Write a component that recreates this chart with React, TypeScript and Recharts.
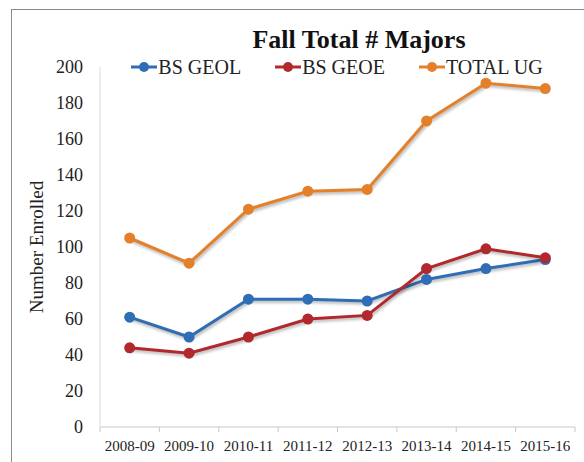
import { LineChart, Line, XAxis, YAxis, Legend } from "recharts";

const categories = [
  "2008-09",
  "2009-10",
  "2010-11",
  "2011-12",
  "2012-13",
  "2013-14",
  "2014-15",
  "2015-16",
];
const bsGeol = [61, 50, 71, 71, 70, 82, 88, 93];
const bsGeoe = [44, 41, 50, 60, 62, 88, 99, 94];
const totalUg = [105, 91, 121, 131, 132, 170, 191, 188];
const yTicks = [0, 20, 40, 60, 80, 100, 120, 140, 160, 180, 200];
const seriesNames = ["BS GEOL", "BS GEOE", "TOTAL UG"];

const data = categories.map((year, i) => ({
  year,
  geol: bsGeol[i],
  geoe: bsGeoe[i],
  total: totalUg[i],
}));

const W = 584;
const H = 462;
const margin = { top: 67, right: 9, bottom: 4, left: 0 };
const yAxisWidth = 100;
const step = (W - margin.left - margin.right - yAxisWidth) / categories.length;
const font = "Liberation Serif, serif";

function XTick(props: any) {
  const { x, y, payload, index } = props;
  const last = index === categories.length - 1;
  return (
    <g>
      <line x1={x - step / 2} y1={y} x2={x - step / 2} y2={y + 5} stroke="#c8c8c8" />
      {last && <line x1={x + step / 2} y1={y} x2={x + step / 2} y2={y + 5} stroke="#c8c8c8" />}
      <text
        x={x}
        y={y + 19}
        dy="0.355em"
        textAnchor="middle"
        fontFamily={font}
        fontSize={15}
        fill="#222"
      >
        {payload.value}
      </text>
    </g>
  );
}

// legend keeps the series order instead of recharts' alphabetical sort
function LegendRow(props: any) {
  const items = [...(props.payload || [])].sort(
    (a: any, b: any) => seriesNames.indexOf(a.value) - seriesNames.indexOf(b.value)
  );
  return (
    <div style={{ display: "flex", justifyContent: "center", gap: 34, fontFamily: font }}>
      {items.map((it: any) => (
        <div key={it.value} style={{ display: "flex", alignItems: "center" }}>
          <svg width={26} height={12}>
            <line x1={0} y1={6} x2={26} y2={6} stroke={it.color} strokeWidth={3} />
            <circle cx={13} cy={6} r={5} fill={it.color} />
          </svg>
          <span
            style={{
              fontFamily: font,
              fontSize: 20,
              lineHeight: "22px",
              color: "#222",
              marginLeft: 1,
            }}
          >
            {it.value}
          </span>
        </div>
      ))}
    </div>
  );
}

export default function App() {
  return (
    <div
      style={{
        position: "fixed",
        left: 0,
        top: 0,
        width: W,
        height: H,
        overflow: "hidden",
        background: "#fff",
        fontFamily: font,
      }}
    >
      <style>{`.recharts-line { filter: drop-shadow(1px 2px 1.5px rgba(0,0,0,0.3)); }`}</style>
      <div
        style={{
          position: "absolute",
          left: 11,
          top: 9,
          width: 700,
          height: 600,
          border: "1.5px solid #8a8a8a",
        }}
      />
      <div
        style={{
          position: "absolute",
          left: 200,
          width: 318,
          top: 25,
          textAlign: "center",
          fontWeight: "bold",
          fontSize: 26,
          lineHeight: "30px",
          color: "#111",
        }}
      >
        Fall Total # Majors
      </div>
      <div
        style={{
          position: "absolute",
          left: 37 - 100,
          top: 247 - 11,
          width: 200,
          height: 22,
          textAlign: "center",
          fontSize: 19,
          lineHeight: "22px",
          color: "#222",
          transform: "rotate(-90deg)",
        }}
      >
        Number Enrolled
      </div>
      <div style={{ position: "absolute", left: 0, top: 0 }}>
        <LineChart width={W} height={H} data={data} margin={margin}>
          <XAxis
            dataKey="year"
            scale="band"
            height={31}
            stroke="#c8c8c8"
            tickSize={0}
            tickMargin={0}
            tick={<XTick />}
            interval={0}
          />
          <YAxis
            width={yAxisWidth}
            domain={[0, 200]}
            ticks={yTicks}
            interval={0}
            stroke="#dcdcdc"
            tickLine={false}
            tickSize={0}
            tickMargin={17}
            tick={{ fontFamily: font, fontSize: 18, fill: "#222" }}
          />
          <Legend
            verticalAlign="middle"
            align="center"
            wrapperStyle={{ top: 56, left: 99, width: 476 }}
            content={<LegendRow />}
          />
          <Line
            name="BS GEOL"
            dataKey="geol"
            stroke="#2f6db5"
            strokeWidth={3}
            dot={{ r: 5.5, fill: "#2f6db5", stroke: "none" }}
            activeDot={false}
            isAnimationActive={false}
          />
          <Line
            name="BS GEOE"
            dataKey="geoe"
            stroke="#b1282d"
            strokeWidth={3}
            dot={{ r: 5.5, fill: "#b1282d", stroke: "none" }}
            activeDot={false}
            isAnimationActive={false}
          />
          <Line
            name="TOTAL UG"
            dataKey="total"
            stroke="#e5802a"
            strokeWidth={3}
            dot={{ r: 5.5, fill: "#e5802a", stroke: "none" }}
            activeDot={false}
            isAnimationActive={false}
          />
        </LineChart>
      </div>
    </div>
  );
}
